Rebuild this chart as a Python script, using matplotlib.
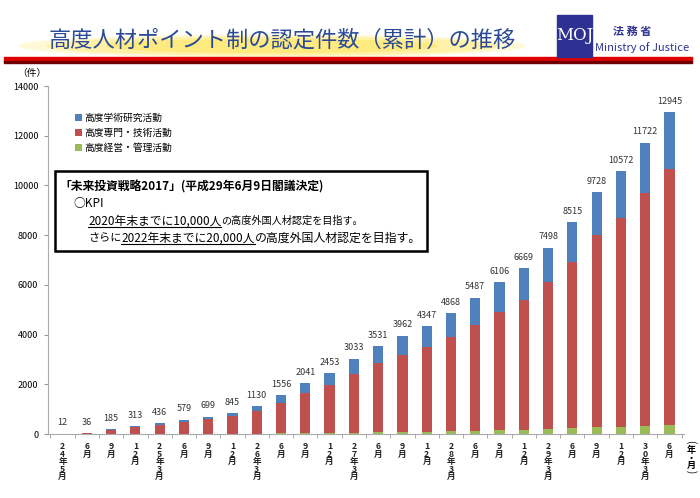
import matplotlib
matplotlib.use("Agg")
import matplotlib.pyplot as plt
from matplotlib.patches import Ellipse, Rectangle
import numpy as np

plt.rcParams["font.family"] = ["Noto Sans CJK JP", "DejaVu Sans"]

# Data
periods = ["24年5月", "6月", "9月", "12月", "25年3月", "6月", "9月", "12月",
           "26年3月", "6月", "9月", "12月", "27年3月", "6月", "9月", "12月",
           "28年3月", "6月", "9月", "12月", "29年3月", "6月", "9月", "12月",
           "30年3月", "6月"]
totals = [12, 36, 185, 313, 436, 579, 699, 845, 1130, 1556, 2041, 2453, 3033,
          3531, 3962, 4347, 4868, 5487, 6106, 6669, 7498, 8515, 9728, 10572,
          11722, 12945]
management = [0, 0, 0, 3, 6, 9, 13, 15, 20, 30, 41, 48, 55, 68, 81, 95, 108,
              135, 149, 162, 189, 229, 283, 296, 336, 376]
technical = [10, 30, 173, 260, 360, 480, 576, 690, 910, 1216, 1600, 1935, 2378,
             2781, 3108, 3396, 3797, 4268, 4768, 5235, 5906, 6696, 7709, 8409,
             9356, 10300]
academic = [2, 6, 12, 50, 70, 90, 110, 140, 200, 310, 400, 470, 600, 682, 773,
            856, 963, 1084, 1189, 1272, 1403, 1590, 1736, 1867, 2030, 2269]
series_names = ["高度学術研究活動", "高度専門・技術活動", "高度経営・管理活動"]

c_blue, c_red, c_green = "#4F81BD", "#C0504D", "#9BBB59"

fig = plt.figure(figsize=(7.0, 4.98), dpi=100)
W, H = 700, 498


def fx(px):
    return px / W


def fy(py):
    return 1 - py / H


# ---- header ----
for w, h, col in [(505, 22, "#FFF9D8"), (450, 18, "#FFF2A8"),
                  (330, 13, "#FFEA80")]:
    fig.patches.append(Ellipse((fx(272), fy(46)), fx(w), h / H, color=col,
                               transform=fig.transFigure, zorder=0))
fig.text(fx(282), fy(40), "高度人材ポイント制の認定件数（累計）の推移",
         fontsize=16, color="#2A4A96", ha="center", va="center")
# red bar
fig.patches.append(Rectangle((fx(4), fy(62)), fx(688), 4.5 / H,
                             color="#E00000", transform=fig.transFigure))
fig.patches.append(Rectangle((fx(4), fy(63)), fx(688), 1.5 / H,
                             color="#700000", transform=fig.transFigure))
# logo
fig.patches.append(Rectangle((fx(557), fy(57)), fx(35), 42 / H,
                             color="#2E3192", transform=fig.transFigure))
fig.text(fx(574.5), fy(36), "MOJ", fontsize=12, color="white", ha="center",
         va="center", family="DejaVu Serif")
fig.text(fx(632), fy(31), "法 務 省", fontsize=8, color="#2E3192", ha="center",
         va="center", fontweight="bold")
fig.text(fx(642), fy(48), "Ministry of Justice", fontsize=8, color="#2E3192",
         ha="center", va="center")

# ---- chart ----
ax = fig.add_axes([fx(48), fy(434), fx(684 - 48), (434 - 86) / H])
x = np.arange(len(periods))
bw = 0.42
b0 = np.array(management)
b1 = b0 + np.array(technical)
ax.bar(x, management, bw, color=c_green, label=series_names[2], zorder=2)
ax.bar(x, technical, bw, bottom=b0, color=c_red, label=series_names[1], zorder=2)
ax.bar(x, academic, bw, bottom=b1, color=c_blue, label=series_names[0], zorder=2)

for xi, t in zip(x, totals):
    ax.text(xi, t + 250, str(t), ha="center", va="bottom", fontsize=6.5,
            color="#333333")

ax.set_xlim(-0.6, len(periods) - 0.4)
ax.set_ylim(0, 14000)
ax.set_yticks(np.arange(0, 14001, 2000))
ax.tick_params(axis="y", labelsize=6.5, length=3, color="#999999", pad=4)
ax.set_xticks(np.arange(len(periods) + 1) - 0.5, minor=True)
ax.set_xticks(x)
ax.set_xticklabels(["\n".join(p) for p in periods], fontsize=6.2,
                   linespacing=0.78, va="top", color="#222222",
                   fontweight="bold")
ax.tick_params(axis="x", which="major", length=0, pad=6)
ax.tick_params(axis="x", which="minor", length=3, color="#999999")
for s in ["top", "right"]:
    ax.spines[s].set_visible(False)
for s in ["left", "bottom"]:
    ax.spines[s].set_color("#AAAAAA")
    ax.spines[s].set_linewidth(0.8)

fig.text(fx(32), fy(73), "（件）", fontsize=7, ha="center", va="center")
# vertical "(年・月)"
fig.text(fx(691), fy(442), "(", fontsize=7, rotation=-90, ha="center",
         va="center")
fig.text(fx(691), fy(446), "年\n・\n月", fontsize=6.5, ha="center", va="top",
         linespacing=0.8, fontweight="bold")
fig.text(fx(691), fy(472), ")", fontsize=7, rotation=-90, ha="center",
         va="center")

# legend
handles, labels = ax.get_legend_handles_labels()
order = [2, 1, 0]
ax.legend([handles[i] for i in order], [labels[i] for i in order],
          loc="upper left", bbox_to_anchor=(fx(71), fy(109)),
          bbox_transform=fig.transFigure, frameon=False, fontsize=7,
          handlelength=0.75, handleheight=0.75, handletextpad=0.2,
          labelspacing=0.5, borderaxespad=0)

# KPI box
fig.patches.append(Rectangle((fx(55), fy(251)), fx(372), 80 / H, fill=False,
                             edgecolor="black", linewidth=1.8,
                             transform=fig.transFigure, zorder=5))
fig.patches.append(Rectangle((fx(55), fy(251)), fx(372), 80 / H,
                             facecolor="white", edgecolor="none",
                             transform=fig.transFigure, zorder=4))
fig.text(fx(59), fy(187), "「未来投資戦略2017」(平成29年6月9日閣議決定)",
         fontsize=8.5, fontweight="bold", va="center", zorder=6)
fig.text(fx(73), fy(203), "○KPI", fontsize=8.5, va="center", zorder=6)

fig.canvas.draw()
renderer = fig.canvas.get_renderer()


def line_with_underline(px, py, parts):
    cur = fx(px)
    for txt, ul, size in parts:
        t = fig.text(cur, fy(py), txt, fontsize=size, va="center", zorder=6)
        bb = t.get_window_extent(renderer=renderer).transformed(
            fig.transFigure.inverted())
        if ul:
            fig.lines.append(plt.Line2D([bb.x0, bb.x1], [bb.y0, bb.y0],
                                        color="black", linewidth=0.8,
                                        transform=fig.transFigure, zorder=6))
        cur = bb.x1


line_with_underline(88, 221, [("2020年末までに10,000人", True, 8.5),
                              ("の高度外国人材認定を目指す。", False, 7.3)])
line_with_underline(88, 238, [("さらに", False, 8.0),
                              ("2022年末までに20,000人", True, 8.5),
                              ("の高度外国人材認定を目指す。", False, 8.6)])

fig.savefig("out.png", dpi=100)
